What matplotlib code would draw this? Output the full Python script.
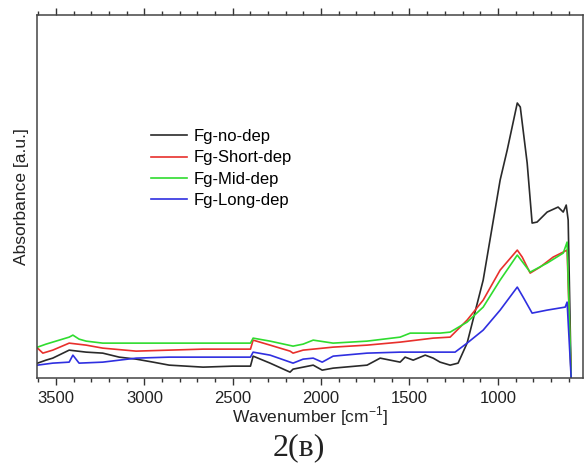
import numpy as np
import matplotlib
matplotlib.use("Agg")
import matplotlib.pyplot as plt
from matplotlib.ticker import MultipleLocator

plt.rcParams["font.family"] = ["Liberation Sans", "DejaVu Sans"]

# spectra (wavenumber in cm^-1, absorbance in a.u.)
wn_no = [3605, 3557, 3519, 3426, 3330, 3236, 3143, 3047, 2951, 2860, 2668, 2500,
         2400, 2385, 2289, 2176, 2159, 2102, 2045, 1994, 1932, 1740, 1666, 1553,
         1525, 1479, 1411, 1366, 1327, 1270, 1225, 1174, 1083, 987, 947, 890, 873,
         834, 806, 778, 721, 659, 630, 613, 602, 585]
ab_no = [0.15, 0.18, 0.20, 0.28, 0.26, 0.25, 0.21, 0.19, 0.16, 0.13, 0.11, 0.12,
         0.12, 0.22, 0.15, 0.06, 0.09, 0.11, 0.13, 0.08, 0.10, 0.13, 0.20, 0.16,
         0.21, 0.18, 0.23, 0.20, 0.16, 0.13, 0.15, 0.35, 0.98, 1.98, 2.28, 2.75,
         2.71, 2.15, 1.55, 1.56, 1.66, 1.71, 1.66, 1.73, 1.58, 0.0]

wn_short = [3605, 3575, 3519, 3426, 3330, 3236, 3047, 2860, 2668, 2400, 2385, 2289,
            2176, 2159, 2102, 2045, 1932, 1740, 1553, 1366, 1270, 1174, 1083, 987,
            890, 862, 817, 761, 687, 630, 608, 585]
ab_short = [0.30, 0.25, 0.28, 0.35, 0.33, 0.30, 0.27, 0.28, 0.29, 0.29, 0.38, 0.33,
            0.27, 0.25, 0.28, 0.29, 0.31, 0.33, 0.36, 0.40, 0.41, 0.58, 0.78, 1.08,
            1.28, 1.21, 1.05, 1.11, 1.21, 1.26, 1.28, 0.0]

wn_mid = [3605, 3557, 3426, 3405, 3370, 3330, 3236, 3047, 2860, 2400, 2385, 2289,
          2159, 2102, 2045, 1932, 1740, 1553, 1496, 1327, 1270, 1174, 1083, 987,
          890, 817, 721, 630, 608, 585]
ab_mid = [0.31, 0.34, 0.41, 0.43, 0.39, 0.37, 0.35, 0.35, 0.35, 0.35, 0.40, 0.37,
          0.32, 0.34, 0.38, 0.35, 0.37, 0.41, 0.45, 0.45, 0.46, 0.56, 0.71, 0.98,
          1.23, 1.06, 1.15, 1.25, 1.36, 0.0]

wn_long = [3605, 3519, 3426, 3405, 3370, 3236, 3047, 2860, 2400, 2385, 2289, 2159,
           2102, 2045, 1994, 1932, 1740, 1553, 1366, 1242, 1174, 1083, 987, 890,
           857, 806, 721, 619, 608, 585]
ab_long = [0.13, 0.15, 0.16, 0.23, 0.15, 0.16, 0.20, 0.21, 0.21, 0.26, 0.23, 0.15,
           0.19, 0.20, 0.16, 0.22, 0.25, 0.26, 0.26, 0.26, 0.35, 0.48, 0.68, 0.91,
           0.81, 0.65, 0.68, 0.71, 0.76, 0.0]

labels = ["Fg-no-dep", "Fg-Short-dep", "Fg-Mid-dep", "Fg-Long-dep"]
colours = ["#2a2a2a", "#e8302c", "#2fdc2f", "#2f2fe0"]

fig = plt.figure(figsize=(5.84, 4.68), dpi=100)
ax = fig.add_axes([0.064, 0.192, 0.934, 0.776])

series = [(wn_no, ab_no), (wn_short, ab_short), (wn_mid, ab_mid), (wn_long, ab_long)]
for (x, y), lab, c in zip(series, labels, colours):
    ax.plot(x, y, color=c, lw=1.2, label=lab)

ax.set_xlim(3606, 519)
ax.set_ylim(0, 3.63)
ax.xaxis.set_major_locator(MultipleLocator(500))
ax.xaxis.set_minor_locator(MultipleLocator(100))
ax.tick_params(axis="x", which="major", direction="out", length=5, width=1,
               top=True, labelsize=12, pad=4, colors="#333333", labelcolor="#222222")
ax.tick_params(axis="x", which="minor", direction="out", length=3, width=1, top=True,
               colors="#333333")
ax.set_yticks([])
for s in ax.spines.values():
    s.set_color("#444444")
    s.set_linewidth(1.1)

ax.set_xlabel("Wavenumber [cm$^{\\mathregular{-1}}$]", fontsize=12.5, labelpad=-1,
              color="#222222")
ax.set_ylabel("Absorbance [a.u.]", fontsize=12.5, labelpad=6, color="#222222")

ax.legend(loc="center left", bbox_to_anchor=(0.181, 0.577), frameon=False,
          fontsize=12, handlelength=2.15, handletextpad=0.4, labelspacing=0.38)

fig.text(0.512, 0.043, "2(в)", family=["Liberation Serif", "DejaVu Serif"],
         fontsize=23, ha="center", va="center", color="#222222")

fig.savefig("out.png", dpi=100)
